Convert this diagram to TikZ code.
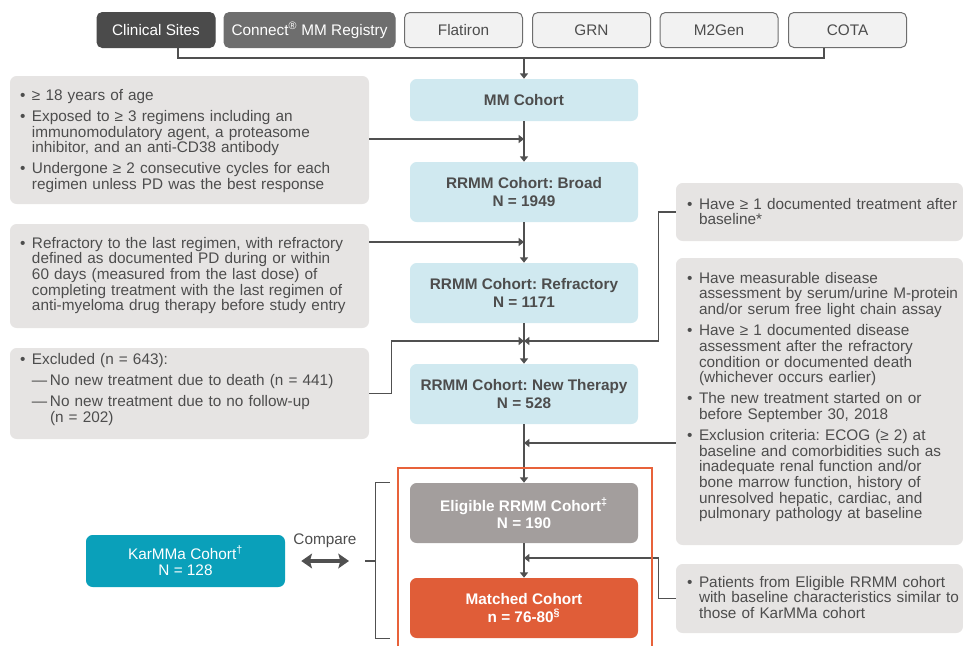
\documentclass[tikz,border=0pt]{standalone}
\usepackage{fontspec}
\setmainfont{Liberation Sans}
\usetikzlibrary{arrows.meta}
\definecolor{txt}{HTML}{4D4D4D}
\definecolor{gboxc}{HTML}{E6E4E3}
\definecolor{bluebox}{HTML}{D0E9F0}
\definecolor{eligc}{HTML}{A39E9D}
\definecolor{matchc}{HTML}{E05D38}
\definecolor{karc}{HTML}{0AA0BA}
\definecolor{framec}{HTML}{E8623A}
\definecolor{darkbox}{HTML}{4B4B4B}
\definecolor{midbox}{HTML}{6E6E6E}
\definecolor{lightbox}{HTML}{F2F2F2}
\definecolor{linec}{HTML}{505050}
\newcommand\bul[1]{\par\noindent\makebox[9pt][l]{•}\begin{tabular}[t]{@{}l@{}}#1\end{tabular}\par}
\newcommand\dsh[1]{\par\noindent\hspace*{9pt}\makebox[13.5pt][l]{—}\begin{tabular}[t]{@{}l@{}}#1\end{tabular}\par}
\newcommand\gap{\vspace{3.1pt}}
\begin{document}
\frenchspacing
\begin{tikzpicture}[x=0.75pt,y=-0.75pt,
  every node/.style={font=\fontsize{11.5pt}{11.6pt}\selectfont, text=txt},
  src/.style={draw=midbox, line width=0.75pt, rounded corners=4pt, fill=lightbox, minimum width=88.5pt, minimum height=26.25pt, inner sep=0pt},
  cohort/.style={fill=bluebox, rounded corners=5pt, minimum width=171pt, minimum height=45pt, inner sep=0pt, align=center, font=\fontsize{11.5pt}{13pt}\selectfont\bfseries},
  gbox/.style={fill=gboxc, rounded corners=5pt, inner sep=0pt},
  gtext/.style={anchor=north west, inner sep=0pt, font=\fontsize{11.5pt}{11.4pt}\selectfont\setlength\parskip{0pt}\setlength\lineskip{1pt}},
  conn/.style={draw=linec, line width=1.1pt},
  thinconn/.style={draw=linec, line width=0.8pt},
  arr/.style={conn, -{Triangle[length=4pt,width=6pt]}},
  dbl/.style={draw=linec, line width=3pt, {Stealth[length=8pt,width=11pt,inset=1.5pt]}-{Stealth[length=8pt,width=11pt,inset=1.5pt]}},
]
\useasboundingbox (0,0) rectangle (963,646);

% sources
\node[src, fill=darkbox, draw=darkbox, text=white] (clin) at (156,30) {Clinical Sites};
\node[src, fill=midbox, draw=midbox, text=white, minimum width=128.25pt] (cmm) at (309.5,30) {Connect\textsuperscript{®} MM Registry};
\node[src] (flat) at (463.5,30) {Flatiron};
\node[src] (grn) at (591.5,30) {GRN};
\node[src] (m2g) at (719,30) {M2Gen};
\node[src] (cota) at (847.5,30) {COTA};

% cohorts
\node[cohort, minimum height=31.5pt] (mm) at (524,100) {MM Cohort};
\node[cohort] (broad) at (524,192) {RRMM Cohort: Broad\\N = 1949};
\node[cohort] (refr) at (524,293) {RRMM Cohort: Refractory\\N = 1171};
\node[cohort] (newt) at (524,394) {RRMM Cohort: New Therapy\\N = 528};
\node[cohort, fill=eligc, text=white] (elig) at (524,513) {Eligible RRMM Cohort\textsuperscript{‡}\\N = 190};
\node[cohort, fill=matchc, text=white] (match) at (524,608) {Matched Cohort\\n = 76-80\textsuperscript{§}};

% left criteria
\node[gbox, minimum width=269.25pt, minimum height=96pt] (l1) at (189.5,140) {};
\node[gtext, text width=258pt] at ([shift={(10,9)}]l1.north west) {%
\bul{≥ 18 years of age}\gap
\bul{Exposed to ≥ 3 regimens including an\\ immunomodulatory agent, a proteasome\\ inhibitor, and an anti-CD38 antibody}\gap
\bul{Undergone ≥ 2 consecutive cycles for each\\ regimen unless PD was the best response}};

\node[gbox, minimum width=269.25pt, minimum height=78pt] (l2) at (189.5,276) {};
\node[gtext, text width=258pt] at ([shift={(10,9)}]l2.north west) {%
\bul{Refractory to the last regimen, with refractory\\ defined as documented PD during or within\\ 60 days (measured from the last dose) of\\ completing treatment with the last regimen of\\ anti-myeloma drug therapy before study entry}};

\node[gbox, minimum width=269.25pt, minimum height=68.25pt] (l3) at (189.5,393.5) {};
\node[gtext, text width=258pt] at ([shift={(10,1)}]l3.north west) {%
\bul{Excluded (n = 643):}\gap
\dsh{No new treatment due to death (n = 441)}\gap
\dsh{No new treatment due to no follow-up\\ (n = 202)}};

% right criteria
\node[gbox, minimum width=215.25pt, minimum height=43.5pt] (rA) at (819.5,212) {};
\node[gtext, text width=230pt] at ([shift={(11,11)}]rA.north west) {%
\bul{Have ≥ 1 documented treatment after\\ baseline*}};

\node[gbox, minimum width=215.25pt, minimum height=215.25pt] (rB) at (819.5,401.5) {};
\node[gtext, text width=230pt] at ([shift={(11,10)}]rB.north west) {%
\bul{Have measurable disease\\ assessment by serum/urine M-protein\\ and/or serum free light chain assay}\gap
\bul{Have ≥ 1 documented disease\\ assessment after the refractory\\ condition or documented death\\ (whichever occurs earlier)}\gap
\bul{The new treatment started on or\\ before September 30, 2018}\gap
\bul{Exclusion criteria: ECOG (≥ 2) at\\ baseline and comorbidities such as\\ inadequate renal function and/or\\ bone marrow function, history of\\ unresolved hepatic, cardiac, and\\ pulmonary pathology at baseline}};

\node[gbox, minimum width=215.25pt, minimum height=51.75pt] (rC) at (819.5,598.5) {};
\node[gtext, text width=230pt] at ([shift={(11,8)}]rC.north west) {%
\bul{Patients from Eligible RRMM cohort\\ with baseline characteristics similar to\\ those of KarMMa cohort}};

% KarMMa
\node[fill=karc, rounded corners=5pt, minimum width=149.25pt, minimum height=39pt, inner sep=0pt, text=white, align=center, font=\fontsize{11.5pt}{12pt}\selectfont] (kar) at (185.5,561) {KarMMa Cohort\textsuperscript{†}\\N = 128};
\node (cmp) at (325,541) {Compare};
\coordinate (tick) at (365,561);
\coordinate (brm) at (376,561);

% source bus
\coordinate (bus) at (524,58);
\draw[conn] ([xshift=16.5pt]clin.south) |- (bus) -| ([xshift=-17.6pt]cota.south);
\draw[arr] (bus) -- (mm.north);

% main flow
\draw[arr] (mm.south) -- (broad.north);
\draw[arr] (broad.south) -- (refr.north);
\draw[arr] (refr.south) -- (newt.north);
\draw[arr] (newt.south) -- (elig.north);
\draw[arr] (elig.south) -- (match.north);

% joins
\coordinate (j1) at (524,139);
\coordinate (j2) at (524,242);
\coordinate (j3) at (524,341);
\coordinate (j4) at (524,443);
\coordinate (j5) at (524,558);
\draw[arr] (l1.east |- j1) -- (j1);
\draw[arr] (l2.east |- j2) -- (j2);
\draw[arr] (l3.east) -- ++(22,0) |- (j3);
\draw[arr] (rA.west) -- ++(-17,0) |- (j3);
\draw[arr] (rB.west |- j4) -- (j4);
\draw[arr] (rC.west) -- ++(-17,0) |- (j5);

% frame and bracket
\draw[draw=framec, line width=1.5pt] (398,646) |- (652,468) -- (652,646);
\draw[thinconn] ([xshift=-15pt]elig.north west) -| ([xshift=-25.5pt]match.south west) -- ([xshift=-15pt]match.south west);
\draw[thinconn] (brm) -- (tick);
\draw[dbl] ([xshift=12pt]kar.east) -- ([xshift=-12pt]tick);
\end{tikzpicture}
\end{document}
